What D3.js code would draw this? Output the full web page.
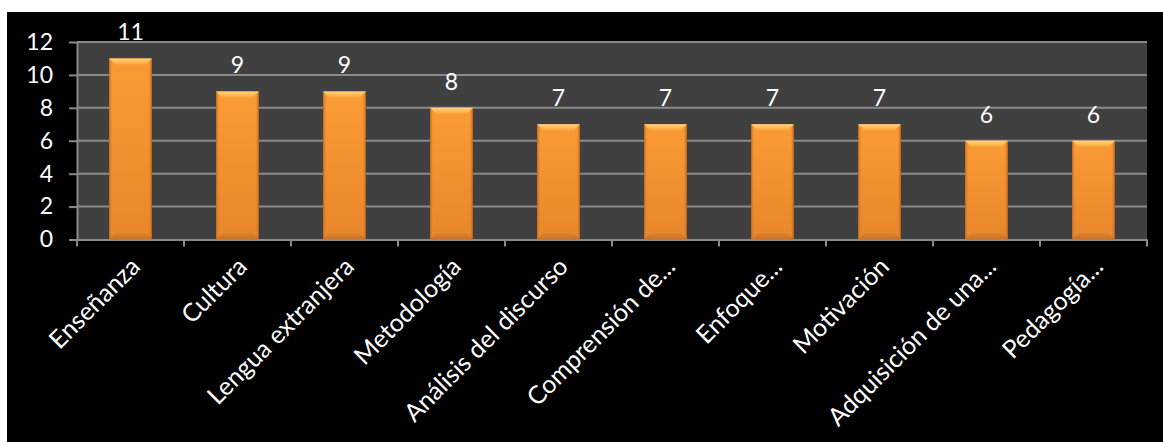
<!DOCTYPE html>
<html><head><meta charset="utf-8">
<script src="https://cdn.jsdelivr.net/npm/d3@7"></script>
<style>
html,body{margin:0;padding:0;background:#fff;}
svg{display:block;}
</style></head>
<body>
<svg id="chart" width="1163" height="442"></svg>
<script>
const categories = ["Enseñanza","Cultura","Lengua extranjera","Metodología","Análisis del discurso","Comprensión de...","Enfoque...","Motivación","Adquisición de una...","Pedagogía..."];
const values = [11,9,9,8,7,7,7,7,6,6];
const yTicks = [0,2,4,6,8,10,12];

const svg = d3.select("#chart");
const W = 1163, H = 442;
const font = "Lato, 'Open Sans', sans-serif";

// outer black chart area
svg.append("rect").attr("x",7).attr("y",12).attr("width",W-7).attr("height",H-12).attr("fill","#000");

const plot = {left:77, right:1147, top:42, bottom:239.5};
const x = d3.scaleBand().domain(categories).range([plot.left, plot.right]).paddingInner(0.6).paddingOuter(0.3);
const y = d3.scaleLinear().domain([0,12]).range([plot.bottom, plot.top]);

const defs = svg.append("defs");
const gBody = defs.append("linearGradient").attr("id","body").attr("x1",0).attr("y1",0).attr("x2",0).attr("y2",1);
gBody.append("stop").attr("offset","0%").attr("stop-color","#FB9B35");
gBody.append("stop").attr("offset","100%").attr("stop-color","#E8862B");
const gSide = defs.append("linearGradient").attr("id","side").attr("x1",0).attr("y1",0).attr("x2",1).attr("y2",0);
gSide.append("stop").attr("offset","0%").attr("stop-color","#B9621A").attr("stop-opacity",0.9);
gSide.append("stop").attr("offset","8%").attr("stop-color","#F08C2C").attr("stop-opacity",0);
gSide.append("stop").attr("offset","92%").attr("stop-color","#F08C2C").attr("stop-opacity",0);
gSide.append("stop").attr("offset","100%").attr("stop-color","#A8561A").attr("stop-opacity",0.9);
const gTop = defs.append("linearGradient").attr("id","topb").attr("x1",0).attr("y1",0).attr("x2",0).attr("y2",1);
gTop.append("stop").attr("offset","0%").attr("stop-color","#FFD47C");
gTop.append("stop").attr("offset","100%").attr("stop-color","#FCA63E");
const gBot = defs.append("linearGradient").attr("id","botb").attr("x1",0).attr("y1",0).attr("x2",0).attr("y2",1);
gBot.append("stop").attr("offset","0%").attr("stop-color","#D9782A");
gBot.append("stop").attr("offset","100%").attr("stop-color","#B0601E");

// plot background
svg.append("rect").attr("x",plot.left).attr("y",plot.top).attr("width",plot.right-plot.left).attr("height",plot.bottom-plot.top).attr("fill","#404040");

// gridlines
svg.append("g").selectAll("line").data(yTicks.filter(d=>d>0)).join("line")
  .attr("x1",plot.left).attr("x2",plot.right)
  .attr("y1",d=>y(d)).attr("y2",d=>y(d))
  .attr("stroke","#8a8a8a").attr("stroke-width",2);

// y axis
const yAxis = svg.append("g").attr("transform",`translate(${plot.left},0)`)
  .call(d3.axisLeft(y).tickValues(yTicks).tickSize(8).tickPadding(16).tickSizeOuter(0));
yAxis.select(".domain").attr("stroke","#8a8a8a").attr("stroke-width",2);
yAxis.selectAll(".tick line").attr("stroke","#8a8a8a").attr("stroke-width",2);
yAxis.selectAll(".tick text").attr("fill","#fff").attr("font-family",font).attr("font-size",23);

// bars
const bars = svg.append("g").selectAll("g").data(categories).join("g");
bars.append("rect")
  .attr("x",d=>x(d)).attr("y",(d,i)=>y(values[i]))
  .attr("width",x.bandwidth()).attr("height",(d,i)=>y(0)-y(values[i]))
  .attr("fill","url(#body)");
bars.append("rect")
  .attr("x",d=>x(d)).attr("y",(d,i)=>y(values[i]))
  .attr("width",x.bandwidth()).attr("height",(d,i)=>y(0)-y(values[i]))
  .attr("fill","url(#side)");
const bev = 6;
bars.append("polygon")
  .attr("points",(d,i)=>{const x0=x(d),x1=x(d)+x.bandwidth(),t=y(values[i]);
    return [[x0,t],[x1,t],[x1-bev,t+bev],[x0+bev,t+bev]].map(p=>p.join(",")).join(" ");})
  .attr("fill","url(#topb)");
bars.append("polygon")
  .attr("points",(d,i)=>{const x0=x(d),x1=x(d)+x.bandwidth(),b=y(0);
    return [[x0,b],[x1,b],[x1-bev,b-bev],[x0+bev,b-bev]].map(p=>p.join(",")).join(" ");})
  .attr("fill","url(#botb)").attr("opacity",0.55);

// x axis
const xAxis = svg.append("g").attr("transform",`translate(0,${plot.bottom})`)
  .call(d3.axisBottom(x).tickSize(0).tickFormat(""));
xAxis.select(".domain").attr("stroke","#8a8a8a").attr("stroke-width",2);
xAxis.selectAll(".tick").remove();
const bounds = categories.map(c=>x(c)-(x.step()-x.bandwidth())/2).concat([plot.right]);
svg.append("g").selectAll("line").data(bounds).join("line")
  .attr("x1",d=>d).attr("x2",d=>d).attr("y1",plot.bottom).attr("y2",plot.bottom+7)
  .attr("stroke","#8a8a8a").attr("stroke-width",2);

// x labels
svg.append("g").selectAll("text").data(categories).join("text")
  .attr("transform",d=>`translate(${x(d)+x.bandwidth()/2-3},254) rotate(-45)`)
  .attr("dy","0.8em").attr("text-anchor","end")
  .attr("fill","#fff").attr("font-family",font).attr("font-size",25)
  .text(d=>d);

// value labels
svg.append("g").selectAll("text").data(categories).join("text")
  .attr("x",d=>x(d)+x.bandwidth()/2).attr("y",(d,i)=>y(values[i])-18)
  .attr("text-anchor","middle").attr("fill","#fff").attr("font-family",font).attr("font-size",23)
  .text((d,i)=>values[i]);
</script>
</body></html>
